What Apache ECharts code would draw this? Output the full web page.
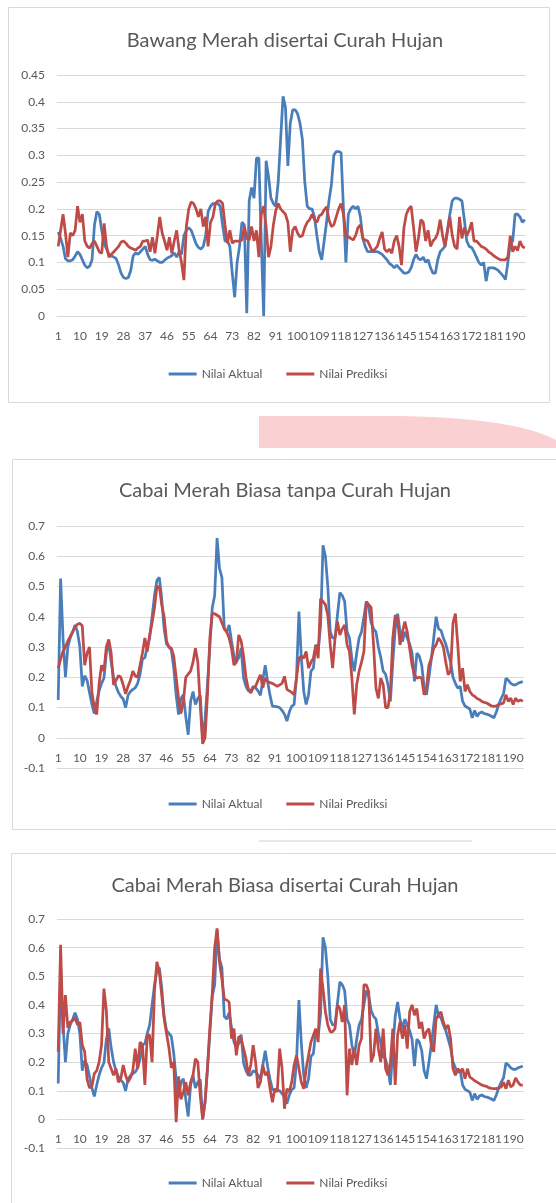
<!DOCTYPE html>
<html>
<head>
<meta charset="utf-8">
<script src="https://cdn.jsdelivr.net/npm/echarts@6/dist/echarts.min.js"></script>
<style>
html,body{margin:0;padding:0;background:#fff;}
#c{width:556px;height:1203px;}
</style>
</head>
<body>
<div id="c"></div>
<script>
// ---------- data ----------
const titles = ["Bawang Merah disertai Curah Hujan", "Cabai Merah Biasa tanpa Curah Hujan", "Cabai Merah Biasa disertai Curah Hujan"];
const legendNames = ["Nilai Aktual", "Nilai Prediksi"];
const nCats = 194;
const categories = Array.from({length: nCats}, (_, i) => String(i + 1));

const bawangAktual = [
0.157,0.145,0.13,0.107,0.103,0.103,0.105,0.112,0.12,0.115,
0.105,0.095,0.09,0.093,0.105,0.17,0.195,0.19,0.16,0.135,
0.125,0.115,0.112,0.11,0.107,0.095,0.08,0.072,0.07,0.072,
0.085,0.112,0.118,0.115,0.12,0.125,0.13,0.115,0.105,0.104,
0.106,0.103,0.1,0.1,0.104,0.108,0.11,0.113,0.118,0.11,
0.12,0.115,0.15,0.16,0.165,0.16,0.148,0.135,0.128,0.125,
0.13,0.15,0.195,0.205,0.21,0.21,0.21,0.205,0.17,0.14,
0.14,0.13,0.08,0.035,0.1,0.13,0.175,0.17,0.005,0.215,
0.24,0.22,0.295,0.295,0.14,0.0,0.29,0.26,0.22,0.21,
0.205,0.25,0.33,0.41,0.39,0.28,0.36,0.385,0.385,0.378,
0.36,0.33,0.25,0.205,0.2,0.2,0.185,0.15,0.12,0.105,
0.14,0.175,0.215,0.245,0.3,0.307,0.307,0.305,0.2,0.1,
0.19,0.2,0.205,0.2,0.205,0.185,0.145,0.13,0.12,0.12,
0.12,0.12,0.12,0.118,0.115,0.11,0.105,0.098,0.095,0.09,
0.095,0.09,0.085,0.08,0.08,0.082,0.09,0.105,0.115,0.107,
0.105,0.11,0.1,0.105,0.09,0.08,0.08,0.105,0.12,0.125,
0.13,0.16,0.19,0.215,0.22,0.22,0.218,0.215,0.18,0.14,
0.13,0.128,0.12,0.11,0.1,0.095,0.1,0.065,0.09,0.09,
0.09,0.088,0.085,0.08,0.075,0.068,0.1,0.135,0.14,0.19,
0.19,0.185,0.175,0.18
];
const bawangPrediksi = [
0.13,0.16,0.19,0.155,0.11,0.155,0.15,0.16,0.205,0.175,
0.19,0.14,0.13,0.127,0.135,0.14,0.13,0.12,0.117,0.173,
0.13,0.11,0.115,0.12,0.125,0.13,0.138,0.14,0.136,0.13,
0.127,0.125,0.123,0.127,0.13,0.14,0.14,0.142,0.12,0.147,
0.117,0.15,0.185,0.155,0.14,0.123,0.147,0.117,0.14,0.16,
0.123,0.1,0.067,0.167,0.2,0.213,0.21,0.2,0.185,0.2,
0.167,0.185,0.13,0.175,0.185,0.21,0.215,0.215,0.21,0.17,
0.136,0.16,0.136,0.14,0.14,0.14,0.142,0.167,0.145,0.142,
0.167,0.14,0.16,0.11,0.19,0.205,0.167,0.11,0.13,0.17,
0.197,0.21,0.2,0.195,0.19,0.175,0.12,0.16,0.167,0.155,
0.148,0.15,0.165,0.175,0.18,0.19,0.18,0.175,0.187,0.19,
0.198,0.204,0.18,0.167,0.17,0.185,0.2,0.21,0.19,0.148,
0.148,0.145,0.142,0.15,0.165,0.17,0.145,0.142,0.14,0.13,
0.12,0.125,0.13,0.145,0.157,0.125,0.12,0.125,0.117,0.14,
0.15,0.13,0.095,0.165,0.19,0.2,0.205,0.165,0.12,0.145,
0.18,0.175,0.14,0.16,0.13,0.14,0.145,0.155,0.18,0.15,
0.13,0.158,0.185,0.15,0.13,0.125,0.185,0.145,0.165,0.15,
0.16,0.175,0.14,0.14,0.135,0.13,0.128,0.125,0.12,0.117,
0.113,0.11,0.107,0.105,0.105,0.105,0.11,0.15,0.12,0.13,
0.122,0.14,0.13,0.127
];
const cabaiAktual = [
0.125,0.526,0.33,0.2,0.3,0.33,0.35,0.373,0.35,0.3,
0.17,0.205,0.19,0.15,0.11,0.08,0.12,0.155,0.18,0.197,
0.28,0.318,0.25,0.2,0.17,0.15,0.137,0.128,0.1,0.14,
0.153,0.16,0.165,0.18,0.21,0.26,0.265,0.3,0.33,0.4,
0.47,0.52,0.53,0.46,0.36,0.31,0.3,0.29,0.23,0.14,
0.077,0.13,0.142,0.07,0.01,0.12,0.153,0.11,0.13,0.14,
0.0,0.06,0.175,0.3,0.43,0.47,0.66,0.56,0.53,0.36,
0.35,0.373,0.32,0.27,0.25,0.265,0.296,0.197,0.17,0.155,
0.155,0.17,0.165,0.155,0.14,0.19,0.24,0.185,0.14,0.104,
0.104,0.102,0.1,0.09,0.078,0.055,0.085,0.104,0.11,0.2,
0.417,0.265,0.153,0.11,0.142,0.22,0.23,0.307,0.29,0.37,
0.636,0.6,0.5,0.35,0.33,0.33,0.405,0.48,0.47,0.45,
0.35,0.33,0.26,0.22,0.28,0.33,0.35,0.4,0.45,0.43,
0.38,0.36,0.35,0.3,0.265,0.22,0.21,0.175,0.12,0.25,
0.36,0.41,0.35,0.318,0.35,0.33,0.31,0.28,0.186,0.28,
0.27,0.24,0.17,0.142,0.2,0.26,0.33,0.4,0.36,0.355,
0.33,0.31,0.28,0.25,0.2,0.18,0.164,0.17,0.12,0.105,
0.1,0.095,0.066,0.09,0.07,0.082,0.085,0.08,0.078,0.075,
0.071,0.066,0.085,0.11,0.13,0.145,0.197,0.19,0.18,0.175,
0.175,0.18,0.183,0.186
];
const cabaiPrediksiTanpa = [
0.23,0.26,0.285,0.3,0.32,0.335,0.35,0.365,0.375,0.378,
0.37,0.24,0.28,0.3,0.15,0.1,0.077,0.18,0.24,0.22,
0.3,0.325,0.28,0.175,0.19,0.205,0.2,0.175,0.145,0.17,
0.19,0.22,0.205,0.2,0.24,0.28,0.33,0.285,0.34,0.38,
0.43,0.5,0.5,0.44,0.4,0.32,0.3,0.296,0.27,0.2,
0.13,0.08,0.12,0.2,0.21,0.22,0.25,0.296,0.25,0.11,
-0.02,0.0,0.14,0.33,0.41,0.41,0.405,0.4,0.38,0.36,
0.35,0.33,0.296,0.24,0.25,0.34,0.32,0.27,0.2,0.16,
0.148,0.165,0.17,0.19,0.208,0.165,0.197,0.186,0.182,0.18,
0.175,0.17,0.175,0.18,0.203,0.16,0.155,0.15,0.142,0.197,
0.263,0.27,0.263,0.285,0.23,0.25,0.263,0.307,0.263,0.46,
0.45,0.44,0.405,0.307,0.23,0.33,0.384,0.34,0.36,0.373,
0.307,0.285,0.197,0.077,0.175,0.22,0.25,0.285,0.45,0.44,
0.43,0.307,0.164,0.13,0.197,0.175,0.1,0.1,0.153,0.33,
0.405,0.395,0.307,0.35,0.384,0.35,0.296,0.24,0.208,0.197,
0.2,0.197,0.142,0.164,0.24,0.263,0.296,0.307,0.33,0.318,
0.3,0.25,0.208,0.22,0.38,0.41,0.307,0.186,0.23,0.153,
0.175,0.153,0.142,0.137,0.13,0.126,0.12,0.117,0.115,0.11,
0.105,0.104,0.105,0.11,0.112,0.115,0.142,0.12,0.131,0.11,
0.131,0.12,0.125,0.12
];
const cabaiPrediksiDisertai = [
0.236,0.61,0.3,0.434,0.32,0.34,0.345,0.355,0.33,0.34,
0.26,0.236,0.14,0.11,0.115,0.16,0.17,0.2,0.26,0.457,
0.38,0.2,0.177,0.154,0.177,0.13,0.142,0.19,0.154,0.13,
0.145,0.17,0.247,0.177,0.27,0.26,0.12,0.294,0.294,0.2,
0.45,0.55,0.516,0.434,0.352,0.3,0.25,0.18,0.2,-0.01,
0.15,0.07,0.096,0.13,0.084,0.13,0.154,0.212,0.2,0.084,
0.0,0.06,0.18,0.32,0.44,0.6,0.667,0.55,0.49,0.42,
0.417,0.41,0.282,0.317,0.224,0.29,0.282,0.247,0.212,0.154,
0.19,0.259,0.2,0.11,0.13,0.19,0.154,0.166,0.107,0.06,
0.107,0.096,0.247,0.177,0.037,0.107,0.096,0.13,0.19,0.224,
0.177,0.13,0.107,0.177,0.224,0.27,0.294,0.317,0.27,0.527,
0.457,0.376,0.33,0.306,0.306,0.317,0.4,0.387,0.34,0.4,
0.084,0.247,0.19,0.25,0.19,0.259,0.282,0.47,0.47,0.446,
0.2,0.224,0.317,0.247,0.2,0.317,0.177,0.154,0.2,0.317,
0.12,0.294,0.34,0.282,0.33,0.247,0.376,0.4,0.364,0.387,
0.317,0.34,0.282,0.306,0.317,0.259,0.236,0.352,0.364,0.376,
0.34,0.317,0.33,0.282,0.177,0.154,0.177,0.166,0.177,0.142,
0.177,0.148,0.142,0.135,0.13,0.125,0.12,0.117,0.115,0.11,
0.108,0.107,0.107,0.11,0.113,0.13,0.107,0.137,0.113,0.12,
0.145,0.13,0.12,0.12
];
const yRanges = [[0, 0.45, 0.05], [-0.1, 0.7, 0.1], [-0.1, 0.7, 0.1]];

// ---------- layout ----------
const FONT = 'Lato, "Open Sans", sans-serif';
const TXT = '#595959';
const GRID = '#d9d9d9';
const BLUE = '#4A7EBB';
const RED = '#BE4B48';
const grids = [
  {left: 57, width: 469, top: 75, height: 241},
  {left: 57, width: 467, top: 526, height: 242},
  {left: 57, width: 467, top: 919, height: 229}
];
// place category axis at value 0 (as in the spreadsheet chart): distance from grid bottom to y=0
const zeroOffset = grids.map((g, i) => -g.height * (0 - yRanges[i][0]) / (yRanges[i][1] - yRanges[i][0]));
const titleY = [26, 476, 871];
const legendY = [363, 793, 1172];
const boxes = [[8, 7, 541, 395], [12, 459, 560, 370], [11, 853, 560, 400]];

// decorative pink shape (page decoration, not data)
const pinkPts = [[259, 448], [259, 416], [400, 416]];
for (let k = 1; k <= 12; k++) {
  const t = k / 12;
  const x = (1 - t) * (1 - t) * 400 + 2 * (1 - t) * t * 515 + t * t * 556;
  const y = (1 - t) * (1 - t) * 416 + 2 * (1 - t) * t * 418 + t * t * 440;
  pinkPts.push([x, y]);
}
pinkPts.push([556, 448]);

const seriesData = [[bawangAktual, bawangPrediksi], [cabaiAktual, cabaiPrediksiTanpa], [cabaiAktual, cabaiPrediksiDisertai]];

const option = {
  animation: false,
  backgroundColor: '#fff',
  title: titles.map((t, i) => ({
    text: t, left: 280, top: titleY[i], textAlign: 'center',
    textStyle: {fontFamily: FONT, fontSize: 20, fontWeight: 'normal', color: TXT}
  })),
  legend: [0, 1, 2].map(i => ({
    data: legendNames, left: 'center', top: legendY[i],
    icon: 'rect', itemWidth: 28, itemHeight: 3, itemGap: 24,
    textStyle: {fontFamily: FONT, fontSize: 12, color: TXT}
  })),
  grid: grids,
  xAxis: [0, 1, 2].map(i => ({
    type: 'category', gridIndex: i, data: categories, boundaryGap: true,
    position: 'bottom', offset: zeroOffset[i],
    axisLine: {show: true, onZero: false, lineStyle: {color: GRID, width: 1}},
    axisTick: {show: false},
    axisLabel: {interval: 8, fontFamily: FONT, fontSize: 12, color: TXT, margin: 14},
    splitLine: {show: false}
  })),
  yAxis: [0, 1, 2].map(i => ({
    type: 'value', gridIndex: i, min: yRanges[i][0], max: yRanges[i][1], interval: yRanges[i][2],
    axisLine: {show: false}, axisTick: {show: false},
    axisLabel: {fontFamily: FONT, fontSize: 12, color: TXT, margin: 12},
    splitLine: {lineStyle: {color: GRID, width: 1}}
  })),
  series: [],
  graphic: [
    ...boxes.map(b => ({type: 'rect', shape: {x: b[0] + 0.5, y: b[1] + 0.5, width: b[2], height: b[3]},
      style: {fill: 'none', stroke: '#d9d9d9', lineWidth: 1}, silent: true, z: -1})),
    {type: 'polygon', shape: {points: pinkPts}, style: {fill: '#fbd0d3'}, silent: true, z: -1},
    {type: 'line', shape: {x1: 259, y1: 841, x2: 472, y2: 841},
      style: {stroke: '#e8e8e8', lineWidth: 2}, silent: true, z: -1}
  ]
};
seriesData.forEach((pair, i) => {
  option.series.push({name: legendNames[0], type: 'line', xAxisIndex: i, yAxisIndex: i, data: pair[0],
    showSymbol: false, symbol: 'none', lineStyle: {color: BLUE, width: 2.75}, itemStyle: {color: BLUE}, z: 2});
  option.series.push({name: legendNames[1], type: 'line', xAxisIndex: i, yAxisIndex: i, data: pair[1],
    showSymbol: false, symbol: 'none', lineStyle: {color: RED, width: 2.75}, itemStyle: {color: RED}, z: 3});
});
const chart = echarts.init(document.getElementById('c'), null, {renderer: 'canvas'});
chart.setOption(option);
</script>
</body>
</html>
